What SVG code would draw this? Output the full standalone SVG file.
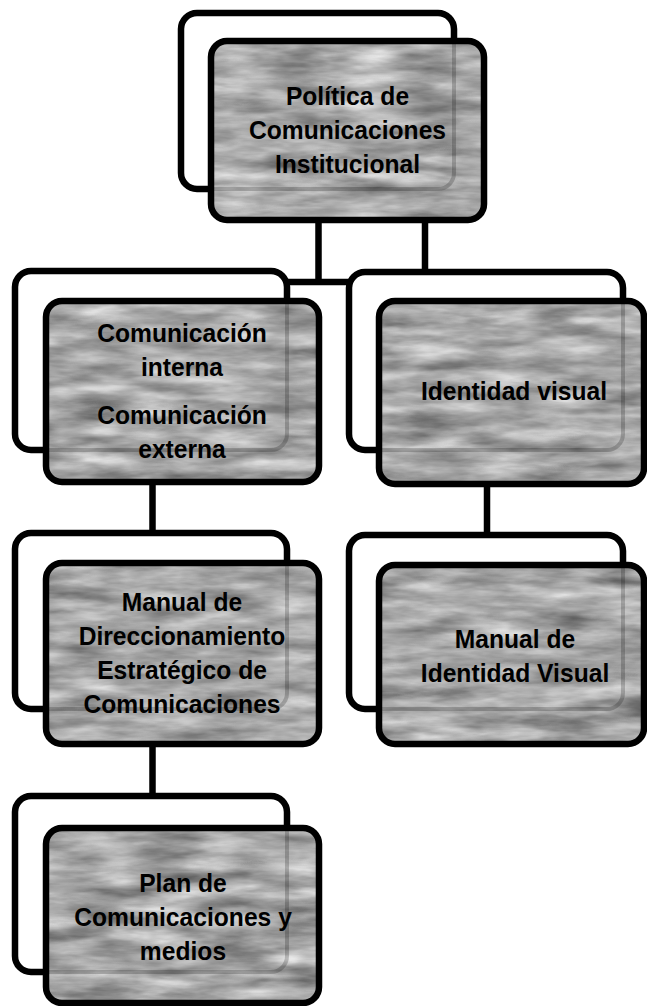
<svg xmlns="http://www.w3.org/2000/svg" width="647" height="1006" viewBox="0 0 647 1006">
<defs>
<filter id="tex" x="0" y="0" width="1" height="1" color-interpolation-filters="sRGB">
<feTurbulence type="fractalNoise" baseFrequency="0.015 0.07" numOctaves="4" seed="7" result="n"/>
<feColorMatrix in="n" type="matrix" values="0.45 0.45 0 0 0.2  0.45 0.45 0 0 0.2  0.45 0.45 0 0 0.2  0 0 0 0 1" result="g"/>
<feComposite in="g" in2="SourceGraphic" operator="in"/>
</filter>
<style>
.back{fill:#fff;stroke:#000;stroke-width:6.5}
.ff{fill:#aaa;filter:url(#tex)}
.fs{fill:none;stroke:#000;stroke-width:6.5}
.ghost{fill:none;stroke:#000;stroke-opacity:.2;stroke-width:4}
.lbl{font-family:"Liberation Sans",Arial,sans-serif;font-weight:bold;font-size:26.5px;fill:#000;text-anchor:middle}
.conn{stroke:#000;stroke-width:6.5;fill:none}
</style>
</defs>
<rect width="647" height="1006" fill="#fff"/>
<g id="connectors">
<path class="conn" d="M318.5 220 V282 M287 282 H349 M425 220 V272 M152.5 482 V533 M152.5 744 V796 M487 484 V535"/>
</g>
<g id="node-politica">
<rect class="back" x="181" y="13" width="273" height="176" rx="16"/>
<rect class="ff" x="211" y="41" width="273" height="179" rx="16"/>
<rect class="ghost" x="181" y="13" width="273" height="176" rx="16"/>
<rect class="fs" x="211" y="41" width="273" height="179" rx="16"/>
<g transform="translate(347.5 0) scale(0.93 1)">
<text class="lbl" x="0" y="105">Política de</text>
<text class="lbl" x="0" y="139">Comunicaciones</text>
<text class="lbl" x="0" y="173">Institucional</text>
</g>
</g>
<g id="node-comunicacion">
<rect class="back" x="15" y="271" width="272" height="179" rx="16"/>
<rect class="ff" x="46" y="301" width="273" height="181" rx="16"/>
<rect class="ghost" x="15" y="271" width="272" height="179" rx="16"/>
<rect class="fs" x="46" y="301" width="273" height="181" rx="16"/>
<g transform="translate(182 0) scale(0.93 1)">
<text class="lbl" x="0" y="342">Comunicación</text>
<text class="lbl" x="0" y="376">interna</text>
<text class="lbl" x="0" y="424">Comunicación</text>
<text class="lbl" x="0" y="458">externa</text>
</g>
</g>
<g id="node-identidad">
<rect class="back" x="349" y="272" width="274" height="178" rx="16"/>
<rect class="ff" x="379" y="301" width="265" height="183" rx="16"/>
<rect class="ghost" x="349" y="272" width="274" height="178" rx="16"/>
<rect class="fs" x="379" y="301" width="265" height="183" rx="16"/>
<g transform="translate(514 0) scale(0.93 1)">
<text class="lbl" x="0" y="400">Identidad visual</text>
</g>
</g>
<g id="node-manual-direccionamiento">
<rect class="back" x="15" y="533" width="272" height="176" rx="16"/>
<rect class="ff" x="46" y="563" width="273" height="181" rx="16"/>
<rect class="ghost" x="15" y="533" width="272" height="176" rx="16"/>
<rect class="fs" x="46" y="563" width="273" height="181" rx="16"/>
<g transform="translate(182 0) scale(0.93 1)">
<text class="lbl" x="0" y="611">Manual de</text>
<text class="lbl" x="0" y="645">Direccionamiento</text>
<text class="lbl" x="0" y="679">Estratégico de</text>
<text class="lbl" x="0" y="713">Comunicaciones</text>
</g>
</g>
<g id="node-manual-identidad">
<rect class="back" x="349" y="535" width="274" height="174" rx="16"/>
<rect class="ff" x="379" y="565" width="265" height="179" rx="16"/>
<rect class="ghost" x="349" y="535" width="274" height="174" rx="16"/>
<rect class="fs" x="379" y="565" width="265" height="179" rx="16"/>
<g transform="translate(515 0) scale(0.93 1)">
<text class="lbl" x="0" y="648">Manual de</text>
<text class="lbl" x="0" y="682">Identidad Visual</text>
</g>
</g>
<g id="node-plan">
<rect class="back" x="15" y="796" width="272" height="176" rx="16"/>
<rect class="ff" x="46" y="828" width="273" height="175" rx="16"/>
<rect class="ghost" x="15" y="796" width="272" height="176" rx="16"/>
<rect class="fs" x="46" y="828" width="273" height="175" rx="16"/>
<g transform="translate(183 0) scale(0.93 1)">
<text class="lbl" x="0" y="892">Plan de</text>
<text class="lbl" x="0" y="926">Comunicaciones y</text>
<text class="lbl" x="0" y="960">medios</text>
</g>
</g>
</svg>
